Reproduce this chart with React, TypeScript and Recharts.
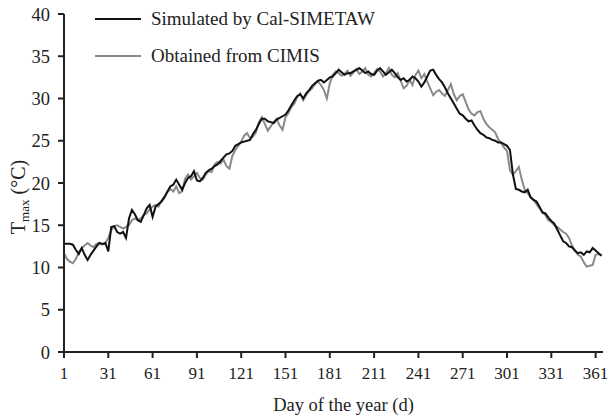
import React from 'react';
import { LineChart, Line, XAxis, YAxis } from 'recharts';

// Daily maximum temperature (°C), sampled every second day starting at day 1
const SIM_TMAX = [
  12.8, 12.8, 12.8, 12.7, 12.1, 11.6, 12.3, 11.5, 10.9, 11.5,
  12.0, 12.5, 12.9, 12.8, 12.9, 11.9, 14.8, 14.9, 14.2, 14.0,
  14.2, 13.5, 15.8, 16.8, 16.3, 15.6, 15.4, 16.2, 17.0, 17.4,
  16.0, 17.2, 17.5, 17.8, 18.3, 19.0, 19.6, 19.8, 20.4, 19.8,
  19.2, 20.0, 20.6, 20.8, 21.4, 20.3, 20.2, 20.6, 21.2, 21.5,
  21.7, 22.0, 22.2, 22.6, 23.0, 23.4, 23.5, 23.8, 24.4, 24.6,
  24.8, 24.9, 25.0, 25.1, 25.8, 26.3, 27.0, 27.6, 27.6, 27.3,
  27.2, 27.1, 27.5, 27.7, 27.9, 28.1, 28.6, 29.2, 29.8, 30.3,
  30.5, 30.0, 30.6, 31.0, 31.5, 31.8, 32.1, 32.2, 31.9, 32.2,
  32.5, 32.6, 33.0, 33.4, 33.1, 32.8, 33.0, 33.0, 33.2, 33.4,
  33.6, 33.3, 33.0, 33.2, 32.9, 32.8, 33.3, 33.6, 33.2, 32.8,
  33.1, 33.4, 33.0, 32.5, 32.2, 32.4, 32.0, 32.2, 32.6, 32.4,
  32.0, 31.4, 31.9, 32.6, 33.3, 33.4, 32.8, 32.3, 31.9, 31.3,
  30.6, 30.0, 29.4, 28.8, 28.2, 28.0, 27.6, 27.3, 27.4, 26.8,
  26.3, 25.9, 25.7, 25.4, 25.3, 25.1, 25.0, 24.8, 24.8, 24.6,
  24.4, 23.9, 21.0, 19.3, 19.2, 19.0, 18.9, 19.2, 18.3, 18.0,
  17.8, 17.2, 16.5, 16.4, 15.9, 15.5, 15.2, 14.5, 13.8, 13.1,
  12.9, 12.5, 12.4, 12.0, 11.7, 11.8, 11.5, 11.9, 11.8, 12.3,
  12.0, 11.7, 11.4,
];

const CIMIS_TMAX = [
  11.7, 11.0, 10.7, 10.5, 11.0, 11.8, 12.3, 12.6, 12.9, 12.6,
  12.4, 12.8, 12.9, 12.7, 12.9, 13.5, 14.4, 14.9, 15.0, 14.8,
  14.6, 14.8, 15.0, 15.6, 15.8, 15.6, 15.8, 16.2, 16.4, 16.9,
  17.2, 17.4, 17.2, 17.9, 18.4, 18.9, 19.3, 19.0, 19.6, 18.8,
  19.0, 20.5, 21.0, 20.4, 20.8, 21.2, 20.6, 20.4, 21.0, 21.4,
  21.3, 22.2, 22.5, 22.3, 22.8, 22.0, 21.7, 23.2, 23.9, 24.4,
  24.9, 25.6, 25.9, 25.3, 25.5, 26.0, 27.2, 27.8, 27.0, 26.2,
  26.7, 27.2, 27.6, 26.8, 26.3, 27.8, 28.3, 29.0, 29.4, 30.2,
  30.6, 29.8, 30.4, 30.9, 31.2, 31.7, 32.0, 31.6, 31.0, 30.0,
  31.8, 32.8, 33.2, 33.0, 32.7, 32.9, 33.3, 32.7, 33.1, 33.5,
  32.9, 33.2, 33.6, 32.8, 32.6, 33.0, 33.5, 33.2, 32.6, 33.0,
  33.6, 32.8, 32.5, 33.0, 32.1, 31.2, 31.5, 32.2, 31.6, 32.8,
  33.3, 32.4, 32.9, 32.0, 31.2, 30.4, 30.8, 31.0, 30.6, 30.3,
  31.0, 31.7, 30.5, 29.8, 30.3, 30.5, 29.6, 28.7, 28.2, 28.0,
  28.4, 28.5, 27.6, 27.0, 26.6, 26.3, 26.0, 25.2, 24.7, 24.2,
  23.8, 21.5, 21.0, 21.4, 21.9, 20.4, 19.2, 18.8, 18.3, 18.0,
  17.5, 17.0, 16.6, 16.2, 15.6, 15.4, 15.0, 14.8, 14.5, 14.2,
  14.0, 13.5, 12.6, 12.0, 11.5, 11.3, 10.6, 10.1, 10.2, 10.3,
  11.5, 11.6, 11.4,
];

const FIRST_DAY = 1;
const DAY_STEP = 2;
const X_TICKS = [1, 31, 61, 91, 121, 151, 181, 211, 241, 271, 301, 331, 361];
const Y_TICKS = [0, 5, 10, 15, 20, 25, 30, 35, 40];
const SERIES_NAMES = ['Simulated by Cal-SIMETAW', 'Obtained from CIMIS'];
const X_LABEL = 'Day of the year (d)';

const data = SIM_TMAX.map((v, i) => ({
  day: FIRST_DAY + i * DAY_STEP,
  sim: v,
  cimis: CIMIS_TMAX[i],
}));

const FONT = '"Liberation Serif", "Times New Roman", serif';
const BLACK = '#111111';
const GRAY = '#8a8a8a';

const YLabel = () => (
  <text
    x={0}
    y={0}
    transform="translate(25, 197) rotate(-90)"
    textAnchor="middle"
    fontFamily={FONT}
    fontSize={20}
    fill="#222"
  >
    <tspan>T</tspan>
    <tspan fontSize={13} dy={4}>max</tspan>
    <tspan dy={-4}> (°C)</tspan>
  </text>
);

const LegendBox = () => (
  <div
    style={{
      position: 'absolute',
      left: 95,
      top: 0,
      fontFamily: FONT,
      fontSize: 19,
      color: '#222',
    }}
  >
    {SERIES_NAMES.map((name, i) => (
      <div key={name} style={{ display: 'flex', alignItems: 'center', height: 37 }}>
        <div
          style={{
            width: 46,
            height: 0,
            borderTop: `2.5px solid ${i === 0 ? BLACK : GRAY}`,
            marginRight: 10,
          }}
        />
        <span style={{ whiteSpace: 'nowrap' }}>{name}</span>
      </div>
    ))}
  </div>
);

export default function App() {
  return (
    <div style={{ position: 'absolute', left: 0, top: 0, width: 613, height: 418, background: '#fff' }}>
      <LineChart
        width={613}
        height={418}
        data={data}
        margin={{ top: 14, right: 10, left: 0, bottom: 0 }}
      >
        <XAxis
          dataKey="day"
          type="number"
          domain={[1, 366]}
          ticks={X_TICKS}
          interval={0}
          height={66}
          tickSize={6}
          tickMargin={9}
          axisLine={{ stroke: '#222', strokeWidth: 2 }}
          tickLine={{ stroke: '#222', strokeWidth: 2 }}
          tick={{ fill: '#222', fontFamily: FONT, fontSize: 17 }}
          label={{
            value: X_LABEL,
            position: 'insideBottom',
            offset: 7,
            fill: '#222',
            fontFamily: FONT,
            fontSize: 18.5,
            dx: 10,
          }}
        />
        <YAxis
          type="number"
          domain={[0, 40]}
          ticks={Y_TICKS}
          interval={0}
          width={64}
          tickSize={6}
          tickMargin={8}
          axisLine={{ stroke: '#222', strokeWidth: 2 }}
          tickLine={{ stroke: '#222', strokeWidth: 2 }}
          tick={{ fill: '#222', fontFamily: FONT, fontSize: 18.5 }}
          label={<YLabel />}
        />
        <Line
          type="linear"
          dataKey="cimis"
          name={SERIES_NAMES[1]}
          stroke={GRAY}
          strokeWidth={2}
          dot={false}
          isAnimationActive={false}
        />
        <Line
          type="linear"
          dataKey="sim"
          name={SERIES_NAMES[0]}
          stroke={BLACK}
          strokeWidth={2}
          dot={false}
          isAnimationActive={false}
        />
      </LineChart>
      <LegendBox />
    </div>
  );
}
